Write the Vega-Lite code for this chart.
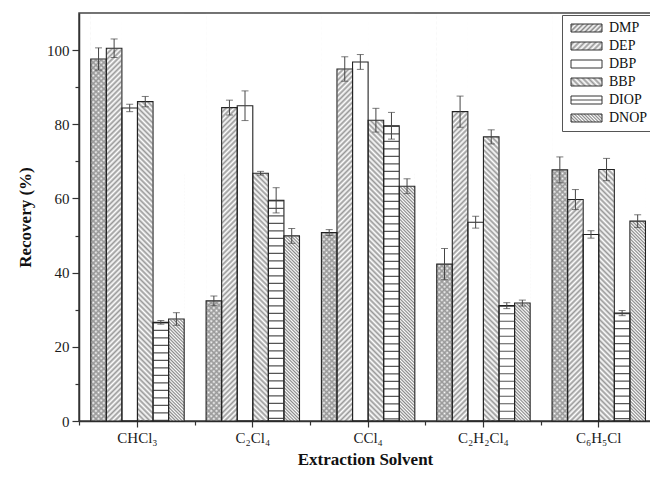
{
"$schema": "https://vega.github.io/schema/vega-lite/v6.json",
"width": 572, "height": 408,
"autosize": {"type": "none"},
"padding": {"left": 79, "top": 13, "right": 0, "bottom": 58},
"background": "white",
"data": {"values": [
{"Solvent":"CHCl₃","Compound":"DMP","Recovery":97.6,"Low":94.6,"High":100.6},
{"Solvent":"CHCl₃","Compound":"DEP","Recovery":100.5,"Low":98,"High":103},
{"Solvent":"CHCl₃","Compound":"DBP","Recovery":84.4,"Low":83.4,"High":85.4},
{"Solvent":"CHCl₃","Compound":"BBP","Recovery":86.1,"Low":84.7,"High":87.5},
{"Solvent":"CHCl₃","Compound":"DIOP","Recovery":26.6,"Low":26.1,"High":27.1},
{"Solvent":"CHCl₃","Compound":"DNOP","Recovery":27.5,"Low":25.8,"High":29.2},
{"Solvent":"C₂Cl₄","Compound":"DMP","Recovery":32.4,"Low":31.1,"High":33.7},
{"Solvent":"C₂Cl₄","Compound":"DEP","Recovery":84.5,"Low":82.5,"High":86.5},
{"Solvent":"C₂Cl₄","Compound":"DBP","Recovery":85,"Low":81,"High":89},
{"Solvent":"C₂Cl₄","Compound":"BBP","Recovery":66.8,"Low":66.3,"High":67.3},
{"Solvent":"C₂Cl₄","Compound":"DIOP","Recovery":59.5,"Low":56.1,"High":62.9},
{"Solvent":"C₂Cl₄","Compound":"DNOP","Recovery":49.9,"Low":47.9,"High":51.9},
{"Solvent":"CCl₄","Compound":"DMP","Recovery":50.8,"Low":50,"High":51.6},
{"Solvent":"CCl₄","Compound":"DEP","Recovery":94.9,"Low":91.6,"High":98.2},
{"Solvent":"CCl₄","Compound":"DBP","Recovery":96.8,"Low":94.8,"High":98.8},
{"Solvent":"CCl₄","Compound":"BBP","Recovery":81.1,"Low":77.9,"High":84.3},
{"Solvent":"CCl₄","Compound":"DIOP","Recovery":79.6,"Low":76,"High":83.2},
{"Solvent":"CCl₄","Compound":"DNOP","Recovery":63.3,"Low":61.3,"High":65.3},
{"Solvent":"C₂H₂Cl₄","Compound":"DMP","Recovery":42.3,"Low":38.1,"High":46.5},
{"Solvent":"C₂H₂Cl₄","Compound":"DEP","Recovery":83.4,"Low":79.2,"High":87.6},
{"Solvent":"C₂H₂Cl₄","Compound":"DBP","Recovery":53.6,"Low":52,"High":55.2},
{"Solvent":"C₂H₂Cl₄","Compound":"BBP","Recovery":76.6,"Low":74.7,"High":78.5},
{"Solvent":"C₂H₂Cl₄","Compound":"DIOP","Recovery":31.1,"Low":30.3,"High":31.9},
{"Solvent":"C₂H₂Cl₄","Compound":"DNOP","Recovery":31.8,"Low":31,"High":32.6},
{"Solvent":"C₆H₅Cl","Compound":"DMP","Recovery":67.7,"Low":64.2,"High":71.2},
{"Solvent":"C₆H₅Cl","Compound":"DEP","Recovery":59.7,"Low":57,"High":62.4},
{"Solvent":"C₆H₅Cl","Compound":"DBP","Recovery":50.3,"Low":49.3,"High":51.3},
{"Solvent":"C₆H₅Cl","Compound":"BBP","Recovery":67.8,"Low":64.8,"High":70.8},
{"Solvent":"C₆H₅Cl","Compound":"DIOP","Recovery":29.1,"Low":28.4,"High":29.8},
{"Solvent":"C₆H₅Cl","Compound":"DNOP","Recovery":53.9,"Low":52.2,"High":55.6}
]},
"config": {
 "view": {"stroke": "#444", "strokeWidth": 1.5},
 "axis": {"labelFont": "Liberation Serif", "titleFont": "Liberation Serif", "labelColor": "#1a1a1a", "titleColor": "#111", "domainColor": "#333", "tickColor": "#333", "grid": false, "zindex": 1}
},
"resolve": {"scale": {"x": "shared", "y": "shared"}, "axis": {"x": "independent", "y": "independent"}},
"layer": [
{
 "encoding": {
  "x": {"field": "Solvent", "type": "nominal", "scale": {"domain": ["CHCl₃","C₂Cl₄","CCl₄","C₂H₂Cl₄","C₆H₅Cl"], "paddingInner": 0.19, "paddingOuter": 0.075, "align": 0.68},
        "axis": {"orient": "bottom", "title": "Extraction Solvent", "labelAngle": 0, "labelFontSize": 15, "tickSize": 6, "tickWidth": 1.2, "labelPadding": 3, "domainWidth": 1.5, "titleFontSize": 17, "titleFontWeight": "bold", "titlePadding": 6}},
  "xOffset": {"field": "Compound", "type": "nominal", "scale": {"domain": ["DMP","DEP","DBP","BBP","DIOP","DNOP"]}}
 },
 "layer": [
  {"transform": [{"filter": {"field": "Compound", "oneOf": ["DMP","DEP"]}}],
   "mark": {"type": "bar", "stroke": null, "fill": {"gradient": "linear", "x1": 0, "y1": 0, "x2": 0.0398, "y2": 1.0383, "stops": [
{"offset":0,"color":"#fff"},{"offset":0.00625,"color":"#999"},{"offset":0.0125,"color":"#fff"},{"offset":0.01875,"color":"#999"},{"offset":0.025,"color":"#fff"},{"offset":0.03125,"color":"#999"},{"offset":0.0375,"color":"#fff"},{"offset":0.04375,"color":"#999"},
{"offset":0.05,"color":"#fff"},{"offset":0.05625,"color":"#999"},{"offset":0.0625,"color":"#fff"},{"offset":0.06875,"color":"#999"},{"offset":0.075,"color":"#fff"},{"offset":0.08125,"color":"#999"},{"offset":0.0875,"color":"#fff"},{"offset":0.09375,"color":"#999"},
{"offset":0.1,"color":"#fff"},{"offset":0.10625,"color":"#999"},{"offset":0.1125,"color":"#fff"},{"offset":0.11875,"color":"#999"},{"offset":0.125,"color":"#fff"},{"offset":0.13125,"color":"#999"},{"offset":0.1375,"color":"#fff"},{"offset":0.14375,"color":"#999"},
{"offset":0.15,"color":"#fff"},{"offset":0.15625,"color":"#999"},{"offset":0.1625,"color":"#fff"},{"offset":0.16875,"color":"#999"},{"offset":0.175,"color":"#fff"},{"offset":0.18125,"color":"#999"},{"offset":0.1875,"color":"#fff"},{"offset":0.19375,"color":"#999"},
{"offset":0.2,"color":"#fff"},{"offset":0.20625,"color":"#999"},{"offset":0.2125,"color":"#fff"},{"offset":0.21875,"color":"#999"},{"offset":0.225,"color":"#fff"},{"offset":0.23125,"color":"#999"},{"offset":0.2375,"color":"#fff"},{"offset":0.24375,"color":"#999"},
{"offset":0.25,"color":"#fff"},{"offset":0.25625,"color":"#999"},{"offset":0.2625,"color":"#fff"},{"offset":0.26875,"color":"#999"},{"offset":0.275,"color":"#fff"},{"offset":0.28125,"color":"#999"},{"offset":0.2875,"color":"#fff"},{"offset":0.29375,"color":"#999"},
{"offset":0.3,"color":"#fff"},{"offset":0.30625,"color":"#999"},{"offset":0.3125,"color":"#fff"},{"offset":0.31875,"color":"#999"},{"offset":0.325,"color":"#fff"},{"offset":0.33125,"color":"#999"},{"offset":0.3375,"color":"#fff"},{"offset":0.34375,"color":"#999"},
{"offset":0.35,"color":"#fff"},{"offset":0.35625,"color":"#999"},{"offset":0.3625,"color":"#fff"},{"offset":0.36875,"color":"#999"},{"offset":0.375,"color":"#fff"},{"offset":0.38125,"color":"#999"},{"offset":0.3875,"color":"#fff"},{"offset":0.39375,"color":"#999"},
{"offset":0.4,"color":"#fff"},{"offset":0.40625,"color":"#999"},{"offset":0.4125,"color":"#fff"},{"offset":0.41875,"color":"#999"},{"offset":0.425,"color":"#fff"},{"offset":0.43125,"color":"#999"},{"offset":0.4375,"color":"#fff"},{"offset":0.44375,"color":"#999"},
{"offset":0.45,"color":"#fff"},{"offset":0.45625,"color":"#999"},{"offset":0.4625,"color":"#fff"},{"offset":0.46875,"color":"#999"},{"offset":0.475,"color":"#fff"},{"offset":0.48125,"color":"#999"},{"offset":0.4875,"color":"#fff"},{"offset":0.49375,"color":"#999"},
{"offset":0.5,"color":"#fff"},{"offset":0.50625,"color":"#999"},{"offset":0.5125,"color":"#fff"},{"offset":0.51875,"color":"#999"},{"offset":0.525,"color":"#fff"},{"offset":0.53125,"color":"#999"},{"offset":0.5375,"color":"#fff"},{"offset":0.54375,"color":"#999"},
{"offset":0.55,"color":"#fff"},{"offset":0.55625,"color":"#999"},{"offset":0.5625,"color":"#fff"},{"offset":0.56875,"color":"#999"},{"offset":0.575,"color":"#fff"},{"offset":0.58125,"color":"#999"},{"offset":0.5875,"color":"#fff"},{"offset":0.59375,"color":"#999"},
{"offset":0.6,"color":"#fff"},{"offset":0.60625,"color":"#999"},{"offset":0.6125,"color":"#fff"},{"offset":0.61875,"color":"#999"},{"offset":0.625,"color":"#fff"},{"offset":0.63125,"color":"#999"},{"offset":0.6375,"color":"#fff"},{"offset":0.64375,"color":"#999"},
{"offset":0.65,"color":"#fff"},{"offset":0.65625,"color":"#999"},{"offset":0.6625,"color":"#fff"},{"offset":0.66875,"color":"#999"},{"offset":0.675,"color":"#fff"},{"offset":0.68125,"color":"#999"},{"offset":0.6875,"color":"#fff"},{"offset":0.69375,"color":"#999"},
{"offset":0.7,"color":"#fff"},{"offset":0.70625,"color":"#999"},{"offset":0.7125,"color":"#fff"},{"offset":0.71875,"color":"#999"},{"offset":0.725,"color":"#fff"},{"offset":0.73125,"color":"#999"},{"offset":0.7375,"color":"#fff"},{"offset":0.74375,"color":"#999"},
{"offset":0.75,"color":"#fff"},{"offset":0.75625,"color":"#999"},{"offset":0.7625,"color":"#fff"},{"offset":0.76875,"color":"#999"},{"offset":0.775,"color":"#fff"},{"offset":0.78125,"color":"#999"},{"offset":0.7875,"color":"#fff"},{"offset":0.79375,"color":"#999"},
{"offset":0.8,"color":"#fff"},{"offset":0.80625,"color":"#999"},{"offset":0.8125,"color":"#fff"},{"offset":0.81875,"color":"#999"},{"offset":0.825,"color":"#fff"},{"offset":0.83125,"color":"#999"},{"offset":0.8375,"color":"#fff"},{"offset":0.84375,"color":"#999"},
{"offset":0.85,"color":"#fff"},{"offset":0.85625,"color":"#999"},{"offset":0.8625,"color":"#fff"},{"offset":0.86875,"color":"#999"},{"offset":0.875,"color":"#fff"},{"offset":0.88125,"color":"#999"},{"offset":0.8875,"color":"#fff"},{"offset":0.89375,"color":"#999"},
{"offset":0.9,"color":"#fff"},{"offset":0.90625,"color":"#999"},{"offset":0.9125,"color":"#fff"},{"offset":0.91875,"color":"#999"},{"offset":0.925,"color":"#fff"},{"offset":0.93125,"color":"#999"},{"offset":0.9375,"color":"#fff"},{"offset":0.94375,"color":"#999"},
{"offset":0.95,"color":"#fff"},{"offset":0.95625,"color":"#999"},{"offset":0.9625,"color":"#fff"},{"offset":0.96875,"color":"#999"},{"offset":0.975,"color":"#fff"},{"offset":0.98125,"color":"#999"},{"offset":0.9875,"color":"#fff"},{"offset":0.99375,"color":"#999"},
{"offset":1,"color":"#fff"}]}},
   "encoding": {"y": {"datum": 109.5, "type": "quantitative", "title": "Recovery (%)", "scale": {"domain": [0,110], "nice": false}, "axis": {"orient": "left", "values": [0,20,40,60,80,100], "tickSize": 7, "tickWidth": 1.2, "labelFontSize": 15, "labelPadding": 3, "domainWidth": 1.5, "titleFontSize": 17, "titleFontWeight": "bold", "titlePadding": 12}}, "y2": {"datum": 0}}},
  {"transform": [{"filter": {"field": "Compound", "oneOf": ["DMP","BBP"]}}],
   "mark": {"type": "bar", "stroke": null, "fill": {"gradient": "linear", "x1": 1, "y1": 0, "x2": 0.9602, "y2": 1.0383, "stops": [
{"offset":0,"color":"rgba(153,153,153,0)"},{"offset":0.00625,"color":"#999"},{"offset":0.0125,"color":"rgba(153,153,153,0)"},{"offset":0.01875,"color":"#999"},{"offset":0.025,"color":"rgba(153,153,153,0)"},{"offset":0.03125,"color":"#999"},{"offset":0.0375,"color":"rgba(153,153,153,0)"},{"offset":0.04375,"color":"#999"},
{"offset":0.05,"color":"rgba(153,153,153,0)"},{"offset":0.05625,"color":"#999"},{"offset":0.0625,"color":"rgba(153,153,153,0)"},{"offset":0.06875,"color":"#999"},{"offset":0.075,"color":"rgba(153,153,153,0)"},{"offset":0.08125,"color":"#999"},{"offset":0.0875,"color":"rgba(153,153,153,0)"},{"offset":0.09375,"color":"#999"},
{"offset":0.1,"color":"rgba(153,153,153,0)"},{"offset":0.10625,"color":"#999"},{"offset":0.1125,"color":"rgba(153,153,153,0)"},{"offset":0.11875,"color":"#999"},{"offset":0.125,"color":"rgba(153,153,153,0)"},{"offset":0.13125,"color":"#999"},{"offset":0.1375,"color":"rgba(153,153,153,0)"},{"offset":0.14375,"color":"#999"},
{"offset":0.15,"color":"rgba(153,153,153,0)"},{"offset":0.15625,"color":"#999"},{"offset":0.1625,"color":"rgba(153,153,153,0)"},{"offset":0.16875,"color":"#999"},{"offset":0.175,"color":"rgba(153,153,153,0)"},{"offset":0.18125,"color":"#999"},{"offset":0.1875,"color":"rgba(153,153,153,0)"},{"offset":0.19375,"color":"#999"},
{"offset":0.2,"color":"rgba(153,153,153,0)"},{"offset":0.20625,"color":"#999"},{"offset":0.2125,"color":"rgba(153,153,153,0)"},{"offset":0.21875,"color":"#999"},{"offset":0.225,"color":"rgba(153,153,153,0)"},{"offset":0.23125,"color":"#999"},{"offset":0.2375,"color":"rgba(153,153,153,0)"},{"offset":0.24375,"color":"#999"},
{"offset":0.25,"color":"rgba(153,153,153,0)"},{"offset":0.25625,"color":"#999"},{"offset":0.2625,"color":"rgba(153,153,153,0)"},{"offset":0.26875,"color":"#999"},{"offset":0.275,"color":"rgba(153,153,153,0)"},{"offset":0.28125,"color":"#999"},{"offset":0.2875,"color":"rgba(153,153,153,0)"},{"offset":0.29375,"color":"#999"},
{"offset":0.3,"color":"rgba(153,153,153,0)"},{"offset":0.30625,"color":"#999"},{"offset":0.3125,"color":"rgba(153,153,153,0)"},{"offset":0.31875,"color":"#999"},{"offset":0.325,"color":"rgba(153,153,153,0)"},{"offset":0.33125,"color":"#999"},{"offset":0.3375,"color":"rgba(153,153,153,0)"},{"offset":0.34375,"color":"#999"},
{"offset":0.35,"color":"rgba(153,153,153,0)"},{"offset":0.35625,"color":"#999"},{"offset":0.3625,"color":"rgba(153,153,153,0)"},{"offset":0.36875,"color":"#999"},{"offset":0.375,"color":"rgba(153,153,153,0)"},{"offset":0.38125,"color":"#999"},{"offset":0.3875,"color":"rgba(153,153,153,0)"},{"offset":0.39375,"color":"#999"},
{"offset":0.4,"color":"rgba(153,153,153,0)"},{"offset":0.40625,"color":"#999"},{"offset":0.4125,"color":"rgba(153,153,153,0)"},{"offset":0.41875,"color":"#999"},{"offset":0.425,"color":"rgba(153,153,153,0)"},{"offset":0.43125,"color":"#999"},{"offset":0.4375,"color":"rgba(153,153,153,0)"},{"offset":0.44375,"color":"#999"},
{"offset":0.45,"color":"rgba(153,153,153,0)"},{"offset":0.45625,"color":"#999"},{"offset":0.4625,"color":"rgba(153,153,153,0)"},{"offset":0.46875,"color":"#999"},{"offset":0.475,"color":"rgba(153,153,153,0)"},{"offset":0.48125,"color":"#999"},{"offset":0.4875,"color":"rgba(153,153,153,0)"},{"offset":0.49375,"color":"#999"},
{"offset":0.5,"color":"rgba(153,153,153,0)"},{"offset":0.50625,"color":"#999"},{"offset":0.5125,"color":"rgba(153,153,153,0)"},{"offset":0.51875,"color":"#999"},{"offset":0.525,"color":"rgba(153,153,153,0)"},{"offset":0.53125,"color":"#999"},{"offset":0.5375,"color":"rgba(153,153,153,0)"},{"offset":0.54375,"color":"#999"},
{"offset":0.55,"color":"rgba(153,153,153,0)"},{"offset":0.55625,"color":"#999"},{"offset":0.5625,"color":"rgba(153,153,153,0)"},{"offset":0.56875,"color":"#999"},{"offset":0.575,"color":"rgba(153,153,153,0)"},{"offset":0.58125,"color":"#999"},{"offset":0.5875,"color":"rgba(153,153,153,0)"},{"offset":0.59375,"color":"#999"},
{"offset":0.6,"color":"rgba(153,153,153,0)"},{"offset":0.60625,"color":"#999"},{"offset":0.6125,"color":"rgba(153,153,153,0)"},{"offset":0.61875,"color":"#999"},{"offset":0.625,"color":"rgba(153,153,153,0)"},{"offset":0.63125,"color":"#999"},{"offset":0.6375,"color":"rgba(153,153,153,0)"},{"offset":0.64375,"color":"#999"},
{"offset":0.65,"color":"rgba(153,153,153,0)"},{"offset":0.65625,"color":"#999"},{"offset":0.6625,"color":"rgba(153,153,153,0)"},{"offset":0.66875,"color":"#999"},{"offset":0.675,"color":"rgba(153,153,153,0)"},{"offset":0.68125,"color":"#999"},{"offset":0.6875,"color":"rgba(153,153,153,0)"},{"offset":0.69375,"color":"#999"},
{"offset":0.7,"color":"rgba(153,153,153,0)"},{"offset":0.70625,"color":"#999"},{"offset":0.7125,"color":"rgba(153,153,153,0)"},{"offset":0.71875,"color":"#999"},{"offset":0.725,"color":"rgba(153,153,153,0)"},{"offset":0.73125,"color":"#999"},{"offset":0.7375,"color":"rgba(153,153,153,0)"},{"offset":0.74375,"color":"#999"},
{"offset":0.75,"color":"rgba(153,153,153,0)"},{"offset":0.75625,"color":"#999"},{"offset":0.7625,"color":"rgba(153,153,153,0)"},{"offset":0.76875,"color":"#999"},{"offset":0.775,"color":"rgba(153,153,153,0)"},{"offset":0.78125,"color":"#999"},{"offset":0.7875,"color":"rgba(153,153,153,0)"},{"offset":0.79375,"color":"#999"},
{"offset":0.8,"color":"rgba(153,153,153,0)"},{"offset":0.80625,"color":"#999"},{"offset":0.8125,"color":"rgba(153,153,153,0)"},{"offset":0.81875,"color":"#999"},{"offset":0.825,"color":"rgba(153,153,153,0)"},{"offset":0.83125,"color":"#999"},{"offset":0.8375,"color":"rgba(153,153,153,0)"},{"offset":0.84375,"color":"#999"},
{"offset":0.85,"color":"rgba(153,153,153,0)"},{"offset":0.85625,"color":"#999"},{"offset":0.8625,"color":"rgba(153,153,153,0)"},{"offset":0.86875,"color":"#999"},{"offset":0.875,"color":"rgba(153,153,153,0)"},{"offset":0.88125,"color":"#999"},{"offset":0.8875,"color":"rgba(153,153,153,0)"},{"offset":0.89375,"color":"#999"},
{"offset":0.9,"color":"rgba(153,153,153,0)"},{"offset":0.90625,"color":"#999"},{"offset":0.9125,"color":"rgba(153,153,153,0)"},{"offset":0.91875,"color":"#999"},{"offset":0.925,"color":"rgba(153,153,153,0)"},{"offset":0.93125,"color":"#999"},{"offset":0.9375,"color":"rgba(153,153,153,0)"},{"offset":0.94375,"color":"#999"},
{"offset":0.95,"color":"rgba(153,153,153,0)"},{"offset":0.95625,"color":"#999"},{"offset":0.9625,"color":"rgba(153,153,153,0)"},{"offset":0.96875,"color":"#999"},{"offset":0.975,"color":"rgba(153,153,153,0)"},{"offset":0.98125,"color":"#999"},{"offset":0.9875,"color":"rgba(153,153,153,0)"},{"offset":0.99375,"color":"#999"},
{"offset":1,"color":"rgba(153,153,153,0)"}]}},
   "encoding": {"y": {"datum": 109.5, "type": "quantitative", "title": "Recovery (%)", "scale": {"domain": [0,110], "nice": false}, "axis": {"orient": "left", "values": [0,20,40,60,80,100], "tickSize": 7, "tickWidth": 1.2, "labelFontSize": 15, "labelPadding": 3, "domainWidth": 1.5, "titleFontSize": 17, "titleFontWeight": "bold", "titlePadding": 12}}, "y2": {"datum": 0}}},
  {"transform": [{"filter": {"field": "Compound", "equal": "DNOP"}}],
   "mark": {"type": "bar", "stroke": null, "fill": {"gradient": "linear", "x1": 1, "y1": 0, "x2": 0.9332, "y2": 1.0628, "stops": [
{"offset":0,"color":"#fff"},{"offset":0.00625,"color":"#888"},{"offset":0.0125,"color":"#fff"},{"offset":0.01875,"color":"#888"},{"offset":0.025,"color":"#fff"},{"offset":0.03125,"color":"#888"},{"offset":0.0375,"color":"#fff"},{"offset":0.04375,"color":"#888"},
{"offset":0.05,"color":"#fff"},{"offset":0.05625,"color":"#888"},{"offset":0.0625,"color":"#fff"},{"offset":0.06875,"color":"#888"},{"offset":0.075,"color":"#fff"},{"offset":0.08125,"color":"#888"},{"offset":0.0875,"color":"#fff"},{"offset":0.09375,"color":"#888"},
{"offset":0.1,"color":"#fff"},{"offset":0.10625,"color":"#888"},{"offset":0.1125,"color":"#fff"},{"offset":0.11875,"color":"#888"},{"offset":0.125,"color":"#fff"},{"offset":0.13125,"color":"#888"},{"offset":0.1375,"color":"#fff"},{"offset":0.14375,"color":"#888"},
{"offset":0.15,"color":"#fff"},{"offset":0.15625,"color":"#888"},{"offset":0.1625,"color":"#fff"},{"offset":0.16875,"color":"#888"},{"offset":0.175,"color":"#fff"},{"offset":0.18125,"color":"#888"},{"offset":0.1875,"color":"#fff"},{"offset":0.19375,"color":"#888"},
{"offset":0.2,"color":"#fff"},{"offset":0.20625,"color":"#888"},{"offset":0.2125,"color":"#fff"},{"offset":0.21875,"color":"#888"},{"offset":0.225,"color":"#fff"},{"offset":0.23125,"color":"#888"},{"offset":0.2375,"color":"#fff"},{"offset":0.24375,"color":"#888"},
{"offset":0.25,"color":"#fff"},{"offset":0.25625,"color":"#888"},{"offset":0.2625,"color":"#fff"},{"offset":0.26875,"color":"#888"},{"offset":0.275,"color":"#fff"},{"offset":0.28125,"color":"#888"},{"offset":0.2875,"color":"#fff"},{"offset":0.29375,"color":"#888"},
{"offset":0.3,"color":"#fff"},{"offset":0.30625,"color":"#888"},{"offset":0.3125,"color":"#fff"},{"offset":0.31875,"color":"#888"},{"offset":0.325,"color":"#fff"},{"offset":0.33125,"color":"#888"},{"offset":0.3375,"color":"#fff"},{"offset":0.34375,"color":"#888"},
{"offset":0.35,"color":"#fff"},{"offset":0.35625,"color":"#888"},{"offset":0.3625,"color":"#fff"},{"offset":0.36875,"color":"#888"},{"offset":0.375,"color":"#fff"},{"offset":0.38125,"color":"#888"},{"offset":0.3875,"color":"#fff"},{"offset":0.39375,"color":"#888"},
{"offset":0.4,"color":"#fff"},{"offset":0.40625,"color":"#888"},{"offset":0.4125,"color":"#fff"},{"offset":0.41875,"color":"#888"},{"offset":0.425,"color":"#fff"},{"offset":0.43125,"color":"#888"},{"offset":0.4375,"color":"#fff"},{"offset":0.44375,"color":"#888"},
{"offset":0.45,"color":"#fff"},{"offset":0.45625,"color":"#888"},{"offset":0.4625,"color":"#fff"},{"offset":0.46875,"color":"#888"},{"offset":0.475,"color":"#fff"},{"offset":0.48125,"color":"#888"},{"offset":0.4875,"color":"#fff"},{"offset":0.49375,"color":"#888"},
{"offset":0.5,"color":"#fff"},{"offset":0.50625,"color":"#888"},{"offset":0.5125,"color":"#fff"},{"offset":0.51875,"color":"#888"},{"offset":0.525,"color":"#fff"},{"offset":0.53125,"color":"#888"},{"offset":0.5375,"color":"#fff"},{"offset":0.54375,"color":"#888"},
{"offset":0.55,"color":"#fff"},{"offset":0.55625,"color":"#888"},{"offset":0.5625,"color":"#fff"},{"offset":0.56875,"color":"#888"},{"offset":0.575,"color":"#fff"},{"offset":0.58125,"color":"#888"},{"offset":0.5875,"color":"#fff"},{"offset":0.59375,"color":"#888"},
{"offset":0.6,"color":"#fff"},{"offset":0.60625,"color":"#888"},{"offset":0.6125,"color":"#fff"},{"offset":0.61875,"color":"#888"},{"offset":0.625,"color":"#fff"},{"offset":0.63125,"color":"#888"},{"offset":0.6375,"color":"#fff"},{"offset":0.64375,"color":"#888"},
{"offset":0.65,"color":"#fff"},{"offset":0.65625,"color":"#888"},{"offset":0.6625,"color":"#fff"},{"offset":0.66875,"color":"#888"},{"offset":0.675,"color":"#fff"},{"offset":0.68125,"color":"#888"},{"offset":0.6875,"color":"#fff"},{"offset":0.69375,"color":"#888"},
{"offset":0.7,"color":"#fff"},{"offset":0.70625,"color":"#888"},{"offset":0.7125,"color":"#fff"},{"offset":0.71875,"color":"#888"},{"offset":0.725,"color":"#fff"},{"offset":0.73125,"color":"#888"},{"offset":0.7375,"color":"#fff"},{"offset":0.74375,"color":"#888"},
{"offset":0.75,"color":"#fff"},{"offset":0.75625,"color":"#888"},{"offset":0.7625,"color":"#fff"},{"offset":0.76875,"color":"#888"},{"offset":0.775,"color":"#fff"},{"offset":0.78125,"color":"#888"},{"offset":0.7875,"color":"#fff"},{"offset":0.79375,"color":"#888"},
{"offset":0.8,"color":"#fff"},{"offset":0.80625,"color":"#888"},{"offset":0.8125,"color":"#fff"},{"offset":0.81875,"color":"#888"},{"offset":0.825,"color":"#fff"},{"offset":0.83125,"color":"#888"},{"offset":0.8375,"color":"#fff"},{"offset":0.84375,"color":"#888"},
{"offset":0.85,"color":"#fff"},{"offset":0.85625,"color":"#888"},{"offset":0.8625,"color":"#fff"},{"offset":0.86875,"color":"#888"},{"offset":0.875,"color":"#fff"},{"offset":0.88125,"color":"#888"},{"offset":0.8875,"color":"#fff"},{"offset":0.89375,"color":"#888"},
{"offset":0.9,"color":"#fff"},{"offset":0.90625,"color":"#888"},{"offset":0.9125,"color":"#fff"},{"offset":0.91875,"color":"#888"},{"offset":0.925,"color":"#fff"},{"offset":0.93125,"color":"#888"},{"offset":0.9375,"color":"#fff"},{"offset":0.94375,"color":"#888"},
{"offset":0.95,"color":"#fff"},{"offset":0.95625,"color":"#888"},{"offset":0.9625,"color":"#fff"},{"offset":0.96875,"color":"#888"},{"offset":0.975,"color":"#fff"},{"offset":0.98125,"color":"#888"},{"offset":0.9875,"color":"#fff"},{"offset":0.99375,"color":"#888"},
{"offset":1,"color":"#fff"}]}},
   "encoding": {"y": {"datum": 66.8, "type": "quantitative", "title": "Recovery (%)", "scale": {"domain": [0,110], "nice": false}, "axis": {"orient": "left", "values": [0,20,40,60,80,100], "tickSize": 7, "tickWidth": 1.2, "labelFontSize": 15, "labelPadding": 3, "domainWidth": 1.5, "titleFontSize": 17, "titleFontWeight": "bold", "titlePadding": 12}}, "y2": {"datum": 0}}},
  {"mark": {"type": "bar", "fill": "#fff", "stroke": "#fff", "strokeWidth": 1},
   "encoding": {"y": {"field": "Recovery", "type": "quantitative", "title": "Recovery (%)", "scale": {"domain": [0,110], "nice": false}, "axis": {"orient": "left", "values": [0,20,40,60,80,100], "tickSize": 7, "tickWidth": 1.2, "labelFontSize": 15, "labelPadding": 3, "domainWidth": 1.5, "titleFontSize": 17, "titleFontWeight": "bold", "titlePadding": 12}}, "y2": {"datum": 109.6}}},
  {"transform": [{"filter": {"field": "Compound", "equal": "DIOP"}}],
   "mark": {"type": "rule", "stroke": "#555", "strokeWidth": 15, "strokeDash": [1.2, 6.3], "strokeCap": "butt"},
   "encoding": {"y": {"field": "Recovery", "type": "quantitative", "title": "Recovery (%)", "scale": {"domain": [0,110], "nice": false}, "axis": {"orient": "left", "values": [0,20,40,60,80,100], "tickSize": 7, "tickWidth": 1.2, "labelFontSize": 15, "labelPadding": 3, "domainWidth": 1.5, "titleFontSize": 17, "titleFontWeight": "bold", "titlePadding": 12}}, "y2": {"datum": 0}}},
  {"mark": {"type": "bar", "fill": "transparent", "stroke": "#222", "strokeWidth": 1.1},
   "encoding": {"y": {"field": "Recovery", "type": "quantitative", "title": "Recovery (%)", "scale": {"domain": [0,110], "nice": false}, "axis": {"orient": "left", "values": [0,20,40,60,80,100], "tickSize": 7, "tickWidth": 1.2, "labelFontSize": 15, "labelPadding": 3, "domainWidth": 1.5, "titleFontSize": 17, "titleFontWeight": "bold", "titlePadding": 12}}}},
  {"mark": {"type": "rule", "stroke": "#444", "strokeWidth": 1},
   "encoding": {"y": {"field": "Low", "type": "quantitative", "title": "Recovery (%)", "scale": {"domain": [0,110], "nice": false}, "axis": {"orient": "left", "values": [0,20,40,60,80,100], "tickSize": 7, "tickWidth": 1.2, "labelFontSize": 15, "labelPadding": 3, "domainWidth": 1.5, "titleFontSize": 17, "titleFontWeight": "bold", "titlePadding": 12}}, "y2": {"field": "High"}}},
  {"mark": {"type": "tick", "color": "#444", "size": 7, "thickness": 1},
   "encoding": {"y": {"field": "Low", "type": "quantitative", "title": "Recovery (%)", "scale": {"domain": [0,110], "nice": false}, "axis": {"orient": "left", "values": [0,20,40,60,80,100], "tickSize": 7, "tickWidth": 1.2, "labelFontSize": 15, "labelPadding": 3, "domainWidth": 1.5, "titleFontSize": 17, "titleFontWeight": "bold", "titlePadding": 12}}}},
  {"mark": {"type": "tick", "color": "#444", "size": 7, "thickness": 1},
   "encoding": {"y": {"field": "High", "type": "quantitative", "title": "Recovery (%)", "scale": {"domain": [0,110], "nice": false}, "axis": {"orient": "left", "values": [0,20,40,60,80,100], "tickSize": 7, "tickWidth": 1.2, "labelFontSize": 15, "labelPadding": 3, "domainWidth": 1.5, "titleFontSize": 17, "titleFontWeight": "bold", "titlePadding": 12}}}},
  {"transform": [{"filter": {"field": "Compound", "equal": "DMP"}}, {"filter": {"field": "Solvent", "equal": "CHCl₃"}}],
   "mark": {"type": "bar", "stroke": null, "opacity": 0, "fill": {"id": "lgDMP", "gradient": "linear", "x1": 0, "y1": 0, "x2": 1.1795, "y2": 0.3044, "stops": [
     {"offset":0,"color":"#fff"},{"offset":0.0625,"color":"#888"},{"offset":0.125,"color":"#fff"},{"offset":0.1875,"color":"#888"},{"offset":0.25,"color":"#fff"},{"offset":0.3125,"color":"#888"},{"offset":0.375,"color":"#fff"},{"offset":0.4375,"color":"#888"},{"offset":0.5,"color":"#fff"},{"offset":0.5625,"color":"#888"},{"offset":0.625,"color":"#fff"},{"offset":0.6875,"color":"#888"},{"offset":0.75,"color":"#fff"},{"offset":0.8125,"color":"#888"},{"offset":0.875,"color":"#fff"},{"offset":0.9375,"color":"#888"},{"offset":1,"color":"#fff"}]}},
   "encoding": {"y": {"datum": 0, "type": "quantitative", "title": "Recovery (%)", "scale": {"domain": [0,110], "nice": false}, "axis": {"orient": "left", "values": [0,20,40,60,80,100], "tickSize": 7, "tickWidth": 1.2, "labelFontSize": 15, "labelPadding": 3, "domainWidth": 1.5, "titleFontSize": 17, "titleFontWeight": "bold", "titlePadding": 12}}, "y2": {"datum": 1}}},
  {"transform": [{"filter": {"field": "Compound", "equal": "DEP"}}, {"filter": {"field": "Solvent", "equal": "CHCl₃"}}],
   "mark": {"type": "bar", "stroke": null, "opacity": 0, "fill": {"id": "lgDEP", "gradient": "linear", "x1": 0, "y1": 0, "x2": 1.1795, "y2": 0.3044, "stops": [
     {"offset":0,"color":"#fff"},{"offset":0.0714,"color":"#999"},{"offset":0.1429,"color":"#fff"},{"offset":0.2143,"color":"#999"},{"offset":0.2857,"color":"#fff"},{"offset":0.3571,"color":"#999"},{"offset":0.4286,"color":"#fff"},{"offset":0.5,"color":"#999"},{"offset":0.5714,"color":"#fff"},{"offset":0.6429,"color":"#999"},{"offset":0.7143,"color":"#fff"},{"offset":0.7857,"color":"#999"},{"offset":0.8571,"color":"#fff"},{"offset":0.9286,"color":"#999"},{"offset":1,"color":"#fff"}]}},
   "encoding": {"y": {"datum": 0, "type": "quantitative", "title": "Recovery (%)", "scale": {"domain": [0,110], "nice": false}, "axis": {"orient": "left", "values": [0,20,40,60,80,100], "tickSize": 7, "tickWidth": 1.2, "labelFontSize": 15, "labelPadding": 3, "domainWidth": 1.5, "titleFontSize": 17, "titleFontWeight": "bold", "titlePadding": 12}}, "y2": {"datum": 1}}},
  {"transform": [{"filter": {"field": "Compound", "equal": "BBP"}}, {"filter": {"field": "Solvent", "equal": "CHCl₃"}}],
   "mark": {"type": "bar", "stroke": null, "opacity": 0, "fill": {"id": "lgBBP", "gradient": "linear", "x1": 1, "y1": 0, "x2": -0.1795, "y2": 0.3044, "stops": [
     {"offset":0,"color":"#fff"},{"offset":0.0714,"color":"#999"},{"offset":0.1429,"color":"#fff"},{"offset":0.2143,"color":"#999"},{"offset":0.2857,"color":"#fff"},{"offset":0.3571,"color":"#999"},{"offset":0.4286,"color":"#fff"},{"offset":0.5,"color":"#999"},{"offset":0.5714,"color":"#fff"},{"offset":0.6429,"color":"#999"},{"offset":0.7143,"color":"#fff"},{"offset":0.7857,"color":"#999"},{"offset":0.8571,"color":"#fff"},{"offset":0.9286,"color":"#999"},{"offset":1,"color":"#fff"}]}},
   "encoding": {"y": {"datum": 0, "type": "quantitative", "title": "Recovery (%)", "scale": {"domain": [0,110], "nice": false}, "axis": {"orient": "left", "values": [0,20,40,60,80,100], "tickSize": 7, "tickWidth": 1.2, "labelFontSize": 15, "labelPadding": 3, "domainWidth": 1.5, "titleFontSize": 17, "titleFontWeight": "bold", "titlePadding": 12}}, "y2": {"datum": 1}}},
  {"transform": [{"filter": {"field": "Compound", "equal": "DIOP"}}, {"filter": {"field": "Solvent", "equal": "CHCl₃"}}],
   "mark": {"type": "bar", "stroke": null, "opacity": 0, "fill": {"id": "lgDIOP", "gradient": "linear", "x1": 0, "y1": 0, "x2": 0, "y2": 1, "stops": [
     {"offset":0,"color":"#fff"},{"offset":0.38,"color":"#fff"},{"offset":0.5,"color":"#444"},{"offset":0.62,"color":"#fff"},{"offset":1,"color":"#fff"}]}},
   "encoding": {"y": {"datum": 0, "type": "quantitative", "title": "Recovery (%)", "scale": {"domain": [0,110], "nice": false}, "axis": {"orient": "left", "values": [0,20,40,60,80,100], "tickSize": 7, "tickWidth": 1.2, "labelFontSize": 15, "labelPadding": 3, "domainWidth": 1.5, "titleFontSize": 17, "titleFontWeight": "bold", "titlePadding": 12}}, "y2": {"datum": 1}}},
  {"transform": [{"filter": {"field": "Compound", "equal": "DNOP"}}, {"filter": {"field": "Solvent", "equal": "CHCl₃"}}],
   "mark": {"type": "bar", "stroke": null, "opacity": 0, "fill": {"id": "lgDNOP", "gradient": "linear", "x1": 1, "y1": 0, "x2": -0.1795, "y2": 0.3044, "stops": [
     {"offset":0,"color":"#fff"},{"offset":0.0417,"color":"#888"},{"offset":0.0833,"color":"#fff"},{"offset":0.125,"color":"#888"},{"offset":0.1667,"color":"#fff"},{"offset":0.2083,"color":"#888"},{"offset":0.25,"color":"#fff"},{"offset":0.2917,"color":"#888"},{"offset":0.3333,"color":"#fff"},{"offset":0.375,"color":"#888"},{"offset":0.4167,"color":"#fff"},{"offset":0.4583,"color":"#888"},{"offset":0.5,"color":"#fff"},{"offset":0.5417,"color":"#888"},{"offset":0.5833,"color":"#fff"},{"offset":0.625,"color":"#888"},{"offset":0.6667,"color":"#fff"},{"offset":0.7083,"color":"#888"},{"offset":0.75,"color":"#fff"},{"offset":0.7917,"color":"#888"},{"offset":0.8333,"color":"#fff"},{"offset":0.875,"color":"#888"},{"offset":0.9167,"color":"#fff"},{"offset":0.9583,"color":"#888"},{"offset":1,"color":"#fff"}]}},
   "encoding": {"y": {"datum": 0, "type": "quantitative", "title": "Recovery (%)", "scale": {"domain": [0,110], "nice": false}, "axis": {"orient": "left", "values": [0,20,40,60,80,100], "tickSize": 7, "tickWidth": 1.2, "labelFontSize": 15, "labelPadding": 3, "domainWidth": 1.5, "titleFontSize": 17, "titleFontWeight": "bold", "titlePadding": 12}}, "y2": {"datum": 1}}},
  {"mark": {"type": "bar", "opacity": 0, "stroke": "#333", "strokeWidth": 1},
   "encoding": {
    "y": {"datum": 0, "type": "quantitative", "title": "Recovery (%)", "scale": {"domain": [0,110], "nice": false}, "axis": {"orient": "left", "values": [0,20,40,60,80,100], "tickSize": 7, "tickWidth": 1.2, "labelFontSize": 15, "labelPadding": 3, "domainWidth": 1.5, "titleFontSize": 17, "titleFontWeight": "bold", "titlePadding": 12}},
    "y2": {"datum": 1},
    "fill": {"field": "Compound", "type": "nominal",
      "scale": {"domain": ["DMP","DEP","DBP","BBP","DIOP","DNOP"], "range": ["url(#lgDMP)","url(#lgDEP)","#ffffff","url(#lgBBP)","url(#lgDIOP)","url(#lgDNOP)"]},
      "legend": {"title": null, "orient": "none", "legendX": 483, "legendY": 2,
        "symbolType": "M-1,-1H6.75V1H-1Z", "symbolSize": 64, "symbolOpacity": 1, "symbolStrokeColor": "#333", "symbolStrokeWidth": 1,
        "labelFont": "Liberation Serif", "labelFontSize": 14, "labelColor": "#111", "labelOffset": 27,
        "rowPadding": 4, "padding": 6, "strokeColor": "#555", "fillColor": "#fff"}}
   }}
 ]
},
{
 "mark": {"type": "bar", "opacity": 0},
 "encoding": {
  "x": {"field": "Solvent", "type": "nominal", "scale": {"domain": ["CHCl₃","C₂Cl₄","CCl₄","C₂H₂Cl₄","C₆H₅Cl"], "paddingInner": 0.19, "paddingOuter": 0.075, "align": 0.68},
        "axis": {"orient": "bottom", "bandPosition": -0.1173, "tickSize": 4, "tickWidth": 1.2, "labels": false, "domain": false, "title": null}},
  "y": {"field": "Recovery", "type": "quantitative", "scale": {"domain": [0,110], "nice": false},
        "axis": {"orient": "left", "values": [10,30,50,70,90], "tickSize": 4, "tickWidth": 1.2, "labels": false, "domain": false, "title": null}}
 }
}
]
}
